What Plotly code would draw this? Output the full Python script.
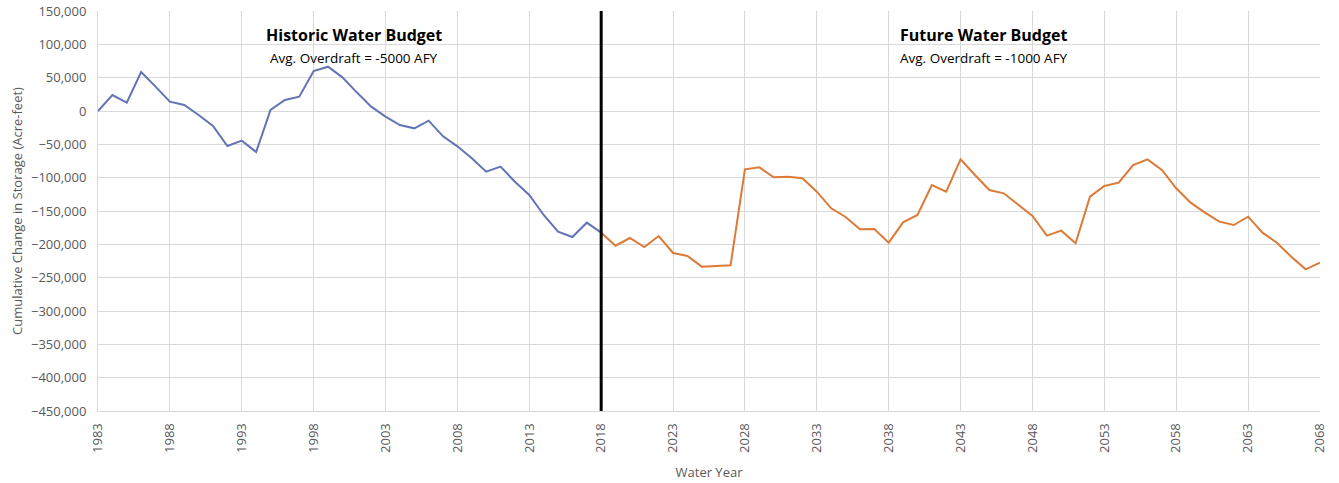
import plotly.graph_objects as go

# Water years and cumulative change in storage (acre-feet)
hist_years = list(range(1983, 2019))
hist_storage = [
    0, 24000, 12500, 58500, 36500, 14000, 9000, -6000, -22500, -52500,
    -44500, -61500, 1500, 16500, 21500, 60000, 66500, 50500, 28000, 6500,
    -8500, -21000, -26000, -14500, -38000, -53000, -71000, -91000, -83500, -106000,
    -126000, -156000, -181000, -189000, -167500, -182500,
]

future_years = list(range(2018, 2069))
future_storage = [
    -182500, -202000, -190500, -204000, -187500, -213000, -217500, -233500, -232500, -231500,
    -87500, -84500, -99500, -98500, -101000, -121000, -146000, -159000, -177500, -177000,
    -197500, -167000, -156000, -111000, -121000, -72500, -96000, -118500, -123500, -141000,
    -157500, -187000, -179500, -198500, -128500, -112500, -107500, -81000, -72500, -88500,
    -116000, -137500, -152500, -166000, -171000, -158500, -182500, -197500, -218500, -237500,
    -227500,
]

divide_year = 2018
y_ticks = list(range(-450000, 150001, 50000))

fig = go.Figure()
fig.add_trace(go.Scatter(x=hist_years, y=hist_storage, mode="lines",
                         line=dict(color="#6274b3", width=2), name="Historic"))
fig.add_trace(go.Scatter(x=future_years, y=future_storage, mode="lines",
                         line=dict(color="#dc7a37", width=2), name="Future"))

# divider between historic and future budgets
fig.add_shape(type="line", x0=divide_year, x1=divide_year, y0=0, y1=1, yref="paper",
              line=dict(color="black", width=3))

fig.add_annotation(x=2000.8, y=114000, text="<b>Historic Water Budget</b>", showarrow=False,
                   font=dict(size=16, color="black"))
fig.add_annotation(x=2000.8, y=80000, text="Avg. Overdraft = -5000 AFY", showarrow=False,
                   font=dict(size=13.5, color="black"))
fig.add_annotation(x=2044.6, y=114000, text="<b>Future Water Budget</b>", showarrow=False,
                   font=dict(size=16, color="black"))
fig.add_annotation(x=2044.6, y=80000, text="Avg. Overdraft = -1000 AFY", showarrow=False,
                   font=dict(size=13.5, color="black"))

fig.update_layout(
    width=1339, height=483,
    margin=dict(l=98, r=19, t=11, b=72),
    paper_bgcolor="white", plot_bgcolor="white",
    showlegend=False,
    font=dict(family="Open Sans, Liberation Sans, sans-serif", color="#595959", size=13),
)
fig.update_xaxes(
    range=[1983, 2068], tick0=1983, dtick=5, tickangle=-90, automargin=False,
    showgrid=True, gridcolor="#d9d9d9", gridwidth=1,
    showline=True, linecolor="#d9d9d9", zeroline=False,
    ticks="", ticklabelstandoff=6, tickfont=dict(size=13, color="#595959"),
    title=dict(text="Water Year", font=dict(size=13, color="#595959"), standoff=15),
)
fig.update_yaxes(
    range=[-450000, 150000], tickvals=y_ticks, tickformat=",", automargin=False,
    ticklabeloverflow="allow",
    showgrid=True, gridcolor="#d9d9d9", gridwidth=1,
    showline=True, linecolor="#d9d9d9", zeroline=False,
    ticks="", ticklabelstandoff=8, tickfont=dict(size=13, color="#595959"),
    title=dict(text="Cumulative Change in Storage (Acre-feet)", font=dict(size=13, color="#595959"), standoff=5),
)

# drop the browser's default body margin so the figure sits at the page corner
fig.write_html("out.html", config={"displayModeBar": False},
               post_script="document.body.style.margin='0';")
